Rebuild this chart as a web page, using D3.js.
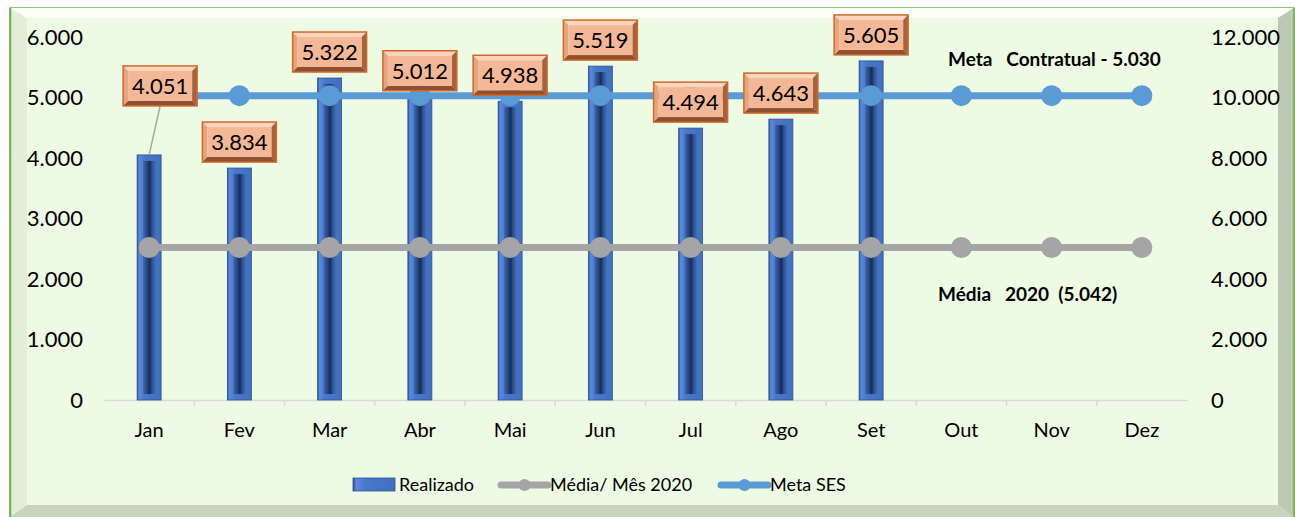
<!DOCTYPE html>
<html>
<head>
<meta charset="utf-8">
<script src="https://cdn.jsdelivr.net/npm/d3@7"></script>
<style>
  body { margin: 0; background: #ffffff; }
  text { font-family: Lato, "Open Sans", sans-serif; fill: #000; }
</style>
</head>
<body>
<script>
// chart data
let months = ["Jan", "Fev", "Mar", "Abr", "Mai", "Jun", "Jul", "Ago", "Set", "Out", "Nov", "Dez"];
let realizado = [4051, 3834, 5322, 5012, 4938, 5519, 4494, 4643, 5605, null, null, null];
let mediaMes = [5042, 5042, 5042, 5042, 5042, 5042, 5042, 5042, 5042, 5042, 5042, 5042];
let metaSes = [5030, 5030, 5030, 5030, 5030, 5030, 5030, 5030, 5030, 5030, 5030, 5030];
let leftTicks = [0, 1000, 2000, 3000, 4000, 5000, 6000];
let rightTicks = [0, 2000, 4000, 6000, 8000, 10000, 12000];
let legendNames = ["Realizado", "Média/ Mês 2020", "Meta SES"];

let W = 1295, H = 517;
let fmt = d => d3.format(",")(d).replace(/,/g, ".");

let svg = d3.select("body").append("svg")
    .attr("width", W)
    .attr("height", H);

let defs = svg.append("defs");

// bar gradient (bevelled look)
let gBar = defs.append("linearGradient").attr("id", "barGrad")
    .attr("x1", "0").attr("x2", "1").attr("y1", "0").attr("y2", "0");
[["0%", "#2d4b82"], ["8%", "#5a8ae0"], ["30%", "#4877cb"], ["100%", "#426fc0"]]
  .forEach(s => gBar.append("stop").attr("offset", s[0]).attr("stop-color", s[1]));
let gIn = defs.append("linearGradient").attr("id", "barInner")
    .attr("x1", "0").attr("x2", "1").attr("y1", "0").attr("y2", "0");
[["0%", "#3d68b2"], ["35%", "#24447c"], ["55%", "#172d52"], ["75%", "#2e5494"], ["100%", "#3d68b2"]]
  .forEach(s => gIn.append("stop").attr("offset", s[0]).attr("stop-color", s[1]));

// background frame with bevel
svg.append("rect").attr("x", 10).attr("y", 8).attr("width", 1284).attr("height", 512)
    .attr("fill", "#eefbe4").attr("stroke", "#70ad47").attr("stroke-width", 1.5);
svg.append("polygon").attr("points", "10,8 1294,8 1278,18 27,18").attr("fill", "#fbfff8");
svg.append("polygon").attr("points", "10,8 27,18 27,505 10,517").attr("fill", "#e2eed8");
svg.append("polygon").attr("points", "1294,8 1294,517 1278,505 1278,18").attr("fill", "#bcc8b3");
svg.append("polygon").attr("points", "10,517 27,505 1278,505 1294,517").attr("fill", "#c8d4c0");
svg.append("line").attr("x1", 10.5).attr("x2", 10.5).attr("y1", 8).attr("y2", 517)
    .attr("stroke", "#70ad47").attr("stroke-width", 1.5);
svg.append("line").attr("x1", 1294).attr("x2", 1294).attr("y1", 8).attr("y2", 517)
    .attr("stroke", "#70ad47").attr("stroke-width", 1.5);

// scales
let x = d3.scaleBand().domain(months).range([104, 1187]);
let yL = d3.scaleLinear().domain([0, 6000]).range([400, 37]);
let yR = d3.scaleLinear().domain([0, 12000]).range([400, 37]);
let cx = m => x(m) + x.bandwidth() / 2;

// axis ticks labels
svg.append("g").selectAll("text").data(leftTicks).enter().append("text")
    .attr("x", 83).attr("y", d => yL(d)).attr("dy", "0.35em")
    .attr("text-anchor", "end").style("font-size", "22px").text(fmt);
svg.append("g").selectAll("text").data(rightTicks).enter().append("text")
    .attr("x", 1211).attr("y", d => yR(d)).attr("dy", "0.35em")
    .attr("text-anchor", "start").style("font-size", "22px").text(fmt);

// x axis
let xAxis = svg.append("g").attr("transform", "translate(0,400)")
    .call(d3.axisBottom(x).tickSize(0).tickPadding(23));
xAxis.select(".domain").attr("stroke", "#d9d9d9").attr("stroke-width", 1.5);
xAxis.selectAll("text").style("font-size", "20px").style("font-family", "Lato, sans-serif").attr("fill", "#000");
xAxis.selectAll(".sep").data(months.slice(1)).enter().append("line")
    .attr("x1", d => x(d)).attr("x2", d => x(d)).attr("y1", 0).attr("y2", 6)
    .attr("stroke", "#d9d9d9").attr("stroke-width", 1.5);

// bars
let barW = 24;
let barData = months.map((m, i) => ({m: m, v: realizado[i]})).filter(d => d.v != null);
let bars = svg.append("g").selectAll("g").data(barData).enter().append("g");
bars.append("rect")
    .attr("x", d => cx(d.m) - barW / 2).attr("y", d => yL(d.v))
    .attr("width", barW).attr("height", d => 400 - yL(d.v))
    .attr("fill", "url(#barGrad)").attr("stroke", "#2f528f").attr("stroke-width", 0.8);
bars.append("rect")
    .attr("x", d => cx(d.m) - barW / 2 + 6).attr("y", d => yL(d.v) + 6)
    .attr("width", barW - 12).attr("height", d => 400 - yL(d.v) - 12)
    .attr("fill", "url(#barInner)");

// lines
function drawLine(vals, scale, color) {
  let pts = months.map((m, i) => [cx(m), scale(vals[i])]);
  svg.append("path").datum(pts)
      .attr("d", d3.line())
      .attr("fill", "none").attr("stroke", color).attr("stroke-width", 7);
  svg.append("g").selectAll("circle").data(pts).enter().append("circle")
      .attr("cx", d => d[0]).attr("cy", d => d[1]).attr("r", 10.5)
      .attr("fill", color);
}
drawLine(mediaMes, yR, "#a5a5a5");
drawLine(metaSes, yL, "#5b9bd5");

// data labels (bevelled boxes)
let bw = 74, bh = 40, b = 5;
let labelShift = {Jan: [11, -43]};
barData.forEach(d => {
  let s = labelShift[d.m] || [0, 0];
  let lx = cx(d.m) + s[0], ly = yL(d.v) - 26 + s[1];
  let x0 = lx - bw / 2, y0 = ly - bh / 2, x1 = lx + bw / 2, y1 = ly + bh / 2;
  let g = svg.append("g");
  if (d.m === "Jan") {
    g.append("line").attr("x1", lx).attr("y1", y1).attr("x2", cx(d.m)).attr("y2", yL(d.v))
        .attr("stroke", "#a6a6a6").attr("stroke-width", 1.5);
  }
  let poly = p => p.map(q => q.join(",")).join(" ");
  g.append("polygon").attr("points", poly([[x0, y0], [x1, y0], [x1 - b, y0 + b], [x0 + b, y0 + b]])).attr("fill", "#fbd6be");
  g.append("polygon").attr("points", poly([[x0, y0], [x0 + b, y0 + b], [x0 + b, y1 - b], [x0, y1]])).attr("fill", "#e6a47f");
  g.append("polygon").attr("points", poly([[x1, y0], [x1, y1], [x1 - b, y1 - b], [x1 - b, y0 + b]])).attr("fill", "#a8603d");
  g.append("polygon").attr("points", poly([[x0, y1], [x0 + b, y1 - b], [x1 - b, y1 - b], [x1, y1]])).attr("fill", "#8f5032");
  g.append("rect").attr("x", x0 + b).attr("y", y0 + b).attr("width", bw - 2 * b).attr("height", bh - 2 * b)
      .attr("fill", "#f5b896");
  g.append("rect").attr("x", x0).attr("y", y0).attr("width", bw).attr("height", bh)
      .attr("fill", "none").attr("stroke", "#d0682a").attr("stroke-width", 1.5);
  g.append("text").attr("x", lx).attr("y", ly).attr("dy", "0.36em")
      .attr("text-anchor", "middle").style("font-size", "22px").text(fmt(d.v));
});

// annotations
svg.append("text").attr("x", 948).attr("y", 66).style("font-size", "19px").style("font-weight", "bold")
    .attr("xml:space", "preserve").text("Meta   Contratual - " + fmt(metaSes[0]));
svg.append("text").attr("x", 938).attr("y", 301).style("font-size", "19px").style("font-weight", "bold")
    .attr("xml:space", "preserve").text("Média   2020  (" + fmt(mediaMes[0]) + ")");

// legend
let lg = svg.append("g");
lg.append("rect").attr("x", 353).attr("y", 478).attr("width", 42).attr("height", 13)
    .attr("fill", "url(#barGrad)").attr("stroke", "#2f528f").attr("stroke-width", 0.8);
lg.append("text").attr("x", 399).attr("y", 485).attr("dy", "0.35em").style("font-size", "18px").text(legendNames[0]);
[[501, "#a5a5a5", legendNames[1]], [721, "#5b9bd5", legendNames[2]]].forEach(l => {
  lg.append("line").attr("x1", l[0]).attr("x2", l[0] + 47).attr("y1", 485).attr("y2", 485)
      .attr("stroke", l[1]).attr("stroke-width", 7).attr("stroke-linecap", "round");
  lg.append("circle").attr("cx", l[0] + 23.5).attr("cy", 485).attr("r", 6).attr("fill", l[1]);
  lg.append("text").attr("x", l[0] + 49).attr("y", 485).attr("dy", "0.35em").style("font-size", "18px").text(l[2]);
});
</script>
</body>
</html>
